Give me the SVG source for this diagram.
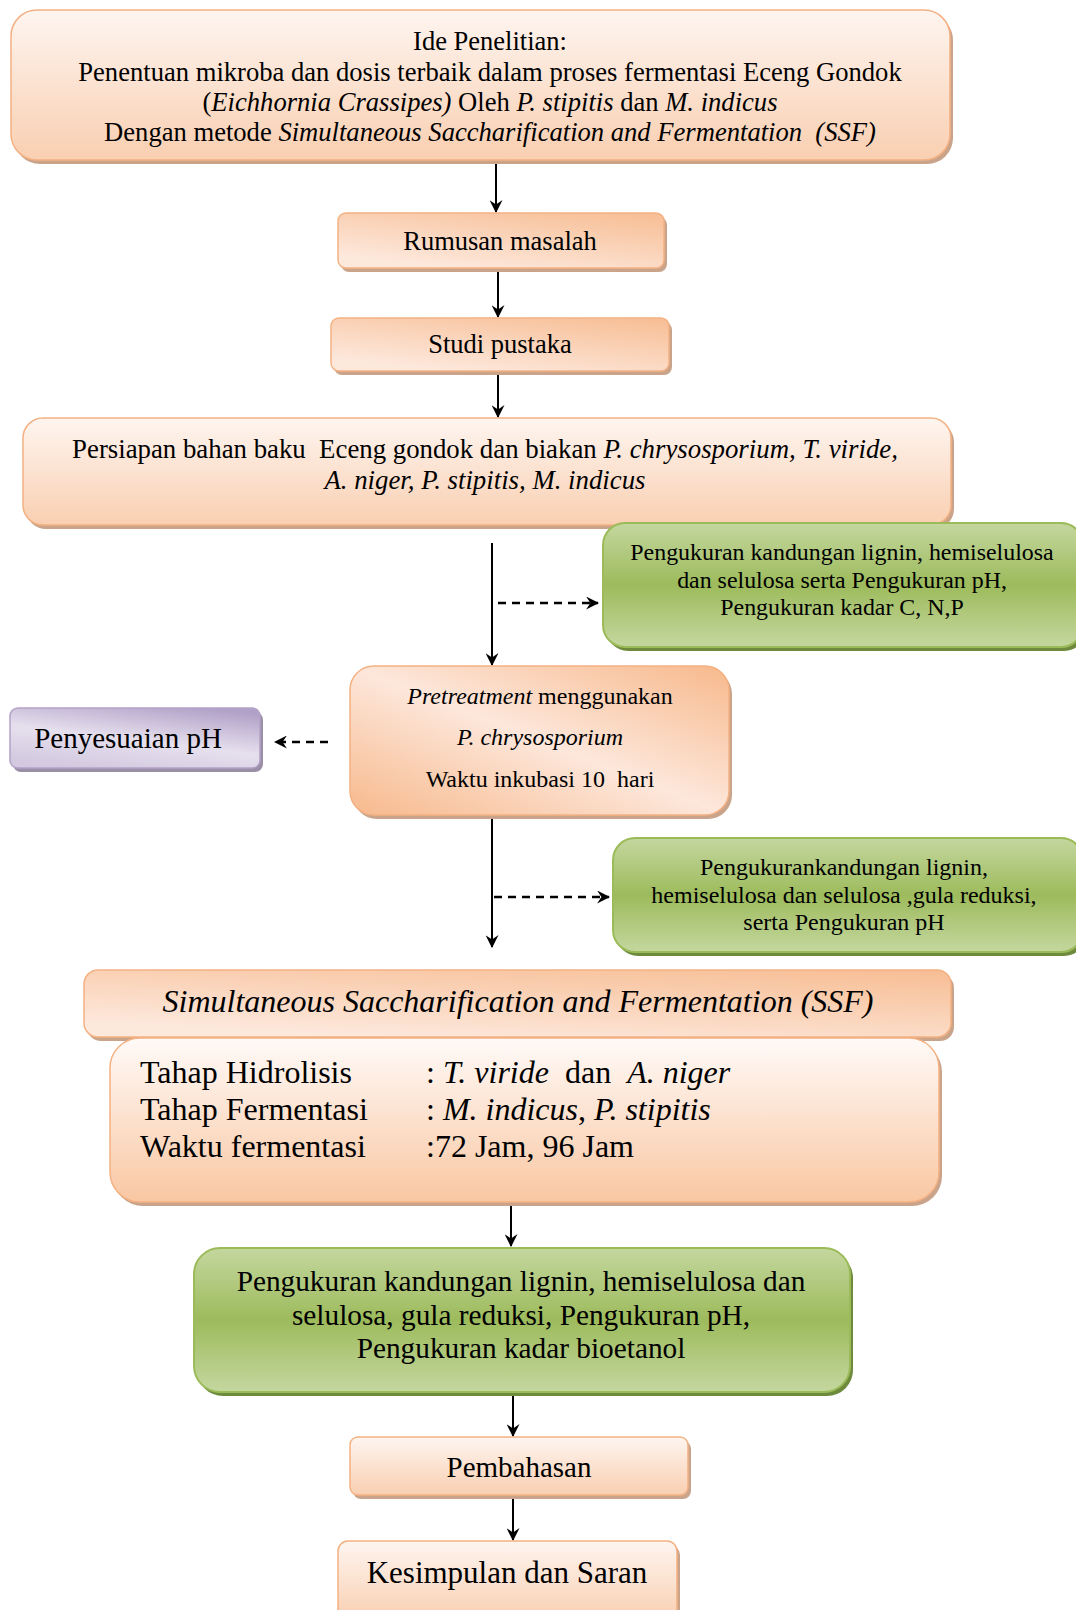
<svg xmlns="http://www.w3.org/2000/svg" width="1076" height="1610" viewBox="0 0 1076 1610">
<defs>
<linearGradient id="gV" x1="0" y1="0" x2="0" y2="1"><stop offset="0" stop-color="#fef5f0"/><stop offset="1" stop-color="#f9cfb1"/></linearGradient>
<linearGradient id="gD" x1="1" y1="0" x2="0.35" y2="1"><stop offset="0" stop-color="#f7bd93"/><stop offset="1" stop-color="#fde8dc"/></linearGradient>
<linearGradient id="gX" x1="1" y1="0" x2="0" y2="1"><stop offset="0" stop-color="#f7b98c"/><stop offset="0.5" stop-color="#fde7db"/><stop offset="1" stop-color="#f7b98c"/></linearGradient>
<linearGradient id="gB" x1="0" y1="0" x2="0" y2="1"><stop offset="0" stop-color="#fffaf8"/><stop offset="1" stop-color="#f9c7a2"/></linearGradient>
<linearGradient id="gG" x1="0" y1="0" x2="0" y2="1"><stop offset="0" stop-color="#c4d79f"/><stop offset="0.5" stop-color="#9dbb5c"/><stop offset="1" stop-color="#c4d79f"/></linearGradient>
<linearGradient id="gP" x1="0.8" y1="0" x2="0.3" y2="1"><stop offset="0" stop-color="#b1a0c7"/><stop offset="0.55" stop-color="#e6e0ee"/><stop offset="1" stop-color="#d3c9e0"/></linearGradient>
<marker id="ah" viewBox="0 0 12 12" refX="11" refY="6" markerWidth="13" markerHeight="13" markerUnits="userSpaceOnUse" orient="auto">
<path d="M0,0 L12,6 L0,12 L4,6 z" fill="#000"/>
</marker>
</defs>
<style>
text{font-family:"Liberation Serif","Times New Roman",serif;fill:#000}
.c{text-anchor:middle}
.i{font-style:italic}
.o{stroke:#f4b183;stroke-width:1.5}
.os{fill:#c9a48a}
.g{stroke:#9bbb59;stroke-width:2}
.gs{fill:#6e8b3d}
.p{stroke:#b2a2c8;stroke-width:1.5}
.ps{fill:#9a8fa6}
.ln{stroke:#000;stroke-width:2;fill:none}
.dl{stroke:#000;stroke-width:2.5;fill:none;stroke-dasharray:8 6}
</style>

<g id="connectors">
<line class="ln" x1="496" y1="160" x2="496" y2="212" marker-end="url(#ah)"/>
<line class="ln" x1="498" y1="268" x2="498" y2="317" marker-end="url(#ah)"/>
<line class="ln" x1="498" y1="371" x2="498" y2="417" marker-end="url(#ah)"/>
<line class="ln" x1="492" y1="543" x2="492" y2="665" marker-end="url(#ah)"/>
<line class="dl" x1="498" y1="603" x2="598" y2="603" marker-end="url(#ah)"/>
<line class="dl" x1="328" y1="742" x2="275" y2="742" marker-end="url(#ah)"/>
<line class="ln" x1="492" y1="818" x2="492" y2="947" marker-end="url(#ah)"/>
<line class="dl" x1="494" y1="897" x2="609" y2="897" marker-end="url(#ah)"/>
<line class="ln" x1="511" y1="1205" x2="511" y2="1246" marker-end="url(#ah)"/>
<line class="ln" x1="513" y1="1395" x2="513" y2="1436" marker-end="url(#ah)"/>
<line class="ln" x1="513" y1="1498" x2="513" y2="1540" marker-end="url(#ah)"/>
</g>

<g id="ide">
<rect class="os" x="14" y="14" width="939" height="150" rx="26"/>
<rect class="o" x="11" y="10" width="939" height="150" rx="26" fill="url(#gV)"/>
<text class="c" x="490" y="50" font-size="26.5">Ide Penelitian:</text>
<text class="c" x="490" y="81" font-size="26.6">Penentuan mikroba dan dosis terbaik dalam proses fermentasi Eceng Gondok</text>
<text class="c" x="490" y="111" font-size="26.6">(<tspan class="i">Eichhornia Crassipes)</tspan> Oleh <tspan class="i">P. stipitis</tspan> dan <tspan class="i">M. indicus</tspan></text>
<text class="c" x="490" y="141" font-size="26.6" xml:space="preserve">Dengan metode <tspan class="i">Simultaneous Saccharification and Fermentation  (SSF)</tspan></text>
</g>

<g id="rumusan">
<rect class="os" x="341" y="217" width="326" height="55" rx="8"/>
<rect class="o" x="338" y="213" width="326" height="55" rx="8" fill="url(#gD)"/>
<text class="c" x="500" y="250" font-size="26.5">Rumusan masalah</text>
</g>

<g id="studi">
<rect class="os" x="334" y="322" width="338" height="53" rx="8"/>
<rect class="o" x="331" y="318" width="338" height="53" rx="8" fill="url(#gD)"/>
<text class="c" x="500" y="353" font-size="26.5">Studi pustaka</text>
</g>

<g id="persiapan">
<rect class="os" x="26" y="422" width="928" height="107" rx="20"/>
<rect class="o" x="23" y="418" width="928" height="107" rx="20" fill="url(#gV)"/>
<text class="c" x="485" y="458" font-size="26.8" xml:space="preserve">Persiapan bahan baku  Eceng gondok dan biakan <tspan class="i">P. chrysosporium, T. viride,</tspan></text>
<text class="c i" x="485" y="489" font-size="26.8">A. niger, P. stipitis, M. indicus</text>
</g>

<g id="ukur1">
<rect class="gs" x="606" y="527" width="480" height="124" rx="22"/>
<rect class="g" x="603" y="523" width="480" height="124" rx="22" fill="url(#gG)"/>
<text class="c" x="842" y="560" font-size="23.9">Pengukuran kandungan lignin, hemiselulosa</text>
<text class="c" x="842" y="588" font-size="23.9">dan selulosa serta Pengukuran pH,</text>
<text class="c" x="842" y="615" font-size="23.9">Pengukuran kadar C, N,P</text>
</g>

<g id="pretreatment">
<rect class="os" x="353" y="670" width="379" height="149" rx="24"/>
<rect class="o" x="350" y="666" width="379" height="149" rx="24" fill="url(#gX)"/>
<text class="c" x="540" y="704" font-size="24">
<tspan class="i">Pretreatment</tspan> menggunakan</text>
<text class="c i" x="540" y="745" font-size="24">P. chrysosporium</text>
<text class="c" x="540" y="787" font-size="24" xml:space="preserve">Waktu inkubasi 10  hari</text>
</g>

<g id="penyesuaian">
<rect class="ps" x="13" y="712" width="250" height="60" rx="8"/>
<rect class="p" x="10" y="708" width="250" height="60" rx="8" fill="url(#gP)"/>
<text class="c" x="128" y="748" font-size="29">Penyesuaian pH</text>
</g>

<g id="ukur2">
<rect class="gs" x="616" y="842" width="470" height="114" rx="22"/>
<rect class="g" x="613" y="838" width="470" height="114" rx="22" fill="url(#gG)"/>
<text class="c" x="844" y="875" font-size="24">Pengukurankandungan lignin,</text>
<text class="c" x="844" y="903" font-size="24">hemiselulosa dan selulosa ,gula reduksi,</text>
<text class="c" x="844" y="930" font-size="24">serta Pengukuran pH</text>
</g>

<g id="ssf">
<rect class="os" x="87" y="974" width="867" height="67" rx="14"/>
<rect class="o" x="84" y="970" width="867" height="67" rx="14" fill="url(#gD)"/>
<text class="c i" x="518" y="1012" font-size="32">Simultaneous Saccharification and Fermentation (SSF)</text>
</g>

<g id="ssf-detail">
<rect class="os" x="113" y="1042" width="829" height="164" rx="30"/>
<rect class="o" x="110" y="1038" width="829" height="164" rx="30" fill="url(#gB)"/>
<text x="140" y="1083" font-size="32">Tahap Hidrolisis</text>
<text x="140" y="1120" font-size="32">Tahap Fermentasi</text>
<text x="140" y="1157" font-size="32">Waktu fermentasi</text>
<text x="426" y="1083" font-size="32" xml:space="preserve">: <tspan class="i">T. viride</tspan>  dan  <tspan class="i">A. niger</tspan></text>
<text x="426" y="1120" font-size="32" xml:space="preserve">: <tspan class="i">M. indicus</tspan>, <tspan class="i">P. stipitis</tspan></text>
<text x="426" y="1157" font-size="32">:72 Jam, 96 Jam</text>
</g>

<g id="ukur3">
<rect class="gs" x="197" y="1252" width="656" height="144" rx="26"/>
<rect class="g" x="194" y="1248" width="656" height="144" rx="26" fill="url(#gG)"/>
<text class="c" x="521" y="1291" font-size="29.3">Pengukuran kandungan lignin, hemiselulosa dan</text>
<text class="c" x="521" y="1325" font-size="29.3">selulosa, gula reduksi, Pengukuran pH,</text>
<text class="c" x="521" y="1358" font-size="29.3">Pengukuran kadar bioetanol</text>
</g>

<g id="pembahasan">
<rect class="os" x="353" y="1441" width="338" height="58" rx="8"/>
<rect class="o" x="350" y="1437" width="338" height="58" rx="8" fill="url(#gV)"/>
<text class="c" x="519" y="1477" font-size="29">Pembahasan</text>
</g>

<g id="kesimpulan">
<rect class="os" x="341" y="1545" width="339" height="80" rx="10"/>
<rect class="o" x="338" y="1541" width="339" height="80" rx="10" fill="url(#gV)"/>
<text class="c" x="507" y="1583" font-size="31">Kesimpulan dan Saran</text>
</g>
</svg>
